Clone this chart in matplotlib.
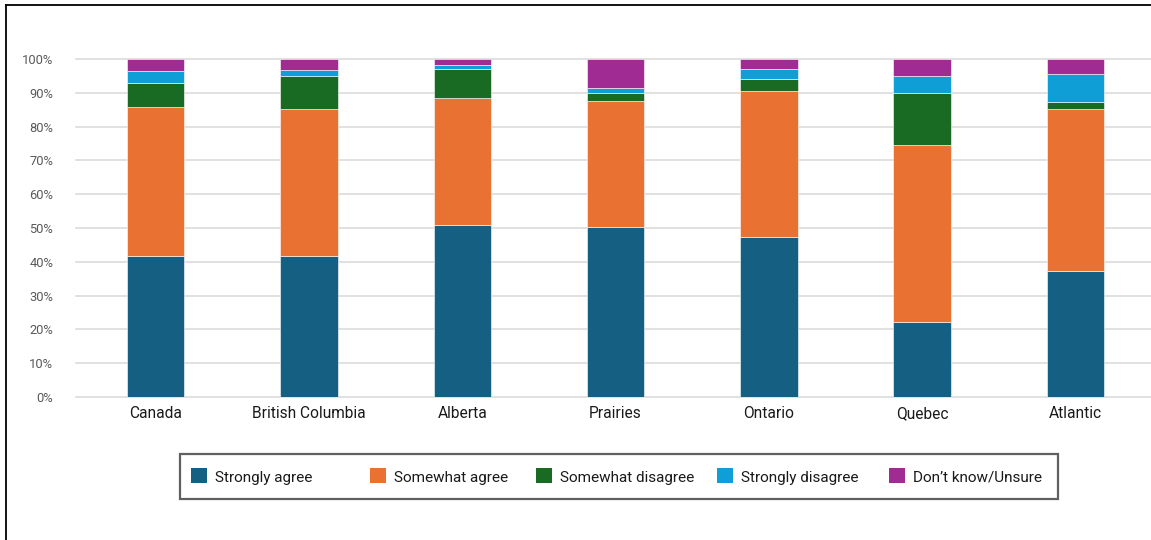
import matplotlib
matplotlib.use("Agg")
import matplotlib.pyplot as plt
from matplotlib.patches import Rectangle
from matplotlib.lines import Line2D
import numpy as np

regions = ["Canada", "British Columbia", "Alberta", "Prairies", "Ontario", "Quebec", "Atlantic"]
series_names = ["Strongly agree", "Somewhat agree", "Somewhat disagree", "Strongly disagree", "Don\u2019t know/Unsure"]
strongly_agree = [41.7, 41.7, 50.9, 50.3, 47.3, 22.2, 37.3]
somewhat_agree = [44.1, 43.6, 37.5, 37.2, 43.2, 52.4, 48.0]
somewhat_disagree = [7.2, 9.7, 8.6, 2.4, 3.5, 15.2, 2.1]
strongly_disagree = [3.5, 1.6, 1.2, 1.5, 3.0, 5.3, 8.2]
dont_know = [3.5, 3.4, 1.8, 8.6, 3.0, 4.9, 4.4]
y_ticks = [0, 10, 20, 30, 40, 50, 60, 70, 80, 90, 100]
y_tick_labels = [f"{t}%" for t in y_ticks]

colors = ["#156082", "#E97132", "#196B24", "#0F9ED5", "#A02B93"]
FONT = ["Roboto", "DejaVu Sans"]

W, H = 1151, 540
fig = plt.figure(figsize=(W / 100, H / 100), dpi=100)
fig.patch.set_facecolor("white")

# axes: x from 76px to 1152px, y from 397px (0%) to 59px (100%)
ax = fig.add_axes([76 / W, (H - 397) / H, (1152 - 76) / W, 338 / H])
x = np.arange(len(regions))
bottom = np.zeros(len(regions))
all_series = [strongly_agree, somewhat_agree, somewhat_disagree, strongly_disagree, dont_know]
for vals, col in zip(all_series, colors):
    ax.bar(x, vals, bottom=bottom, width=0.375, color=col, edgecolor="white",
           linewidth=0.4, zorder=3)
    bottom += np.array(vals)

ax.set_xlim(-0.52, 6.5)
ax.set_ylim(0, 100)
ax.set_yticks(y_ticks)
ax.set_yticklabels(y_tick_labels, fontfamily=FONT, fontsize=9.3, color="#595959")
ax.set_xticks(x)
ax.set_xticklabels(regions, fontfamily=FONT, fontsize=11.2, color="#1a1a1a",
                   va="baseline")
ax.tick_params(axis="y", length=0, pad=16.5)
ax.tick_params(axis="x", length=0, pad=15)
for s in ax.spines.values():
    s.set_visible(False)
ax.grid(axis="y", color="#d9d9d9", linewidth=1.1, zorder=0)
ax.set_axisbelow(True)
for gl in ax.get_ygridlines():
    gl.set_clip_on(False)

# figure border (left and top)
fig.add_artist(Line2D([6.3 / W, 6.3 / W], [0, 1 - 5.3 / H], transform=fig.transFigure,
                      color="black", linewidth=1.3))
fig.add_artist(Line2D([6.3 / W, 1], [1 - 5.3 / H, 1 - 5.3 / H], transform=fig.transFigure,
                      color="black", linewidth=1.3))

# legend box
bx0, bx1, by0, by1 = 179.5, 1058, 454, 499
fig.add_artist(Rectangle((bx0 / W, 1 - by1 / H), (bx1 - bx0) / W, (by1 - by0) / H,
                         transform=fig.transFigure, facecolor="white",
                         edgecolor="#606060", linewidth=1.6))
sq_x = [191, 370, 536, 717, 889]
for name, col, sx in zip(series_names, colors, sq_x):
    fig.add_artist(Rectangle((sx / W, 1 - 483 / H), 16 / W, 15 / H,
                             transform=fig.transFigure, facecolor=col, edgecolor="none"))
    fig.text((sx + 24) / W, 1 - 482 / H, name, fontfamily=FONT, fontsize=11,
             color="#1a1a1a", va="baseline", ha="left")

fig.savefig("out.png", dpi=100, facecolor="white")
